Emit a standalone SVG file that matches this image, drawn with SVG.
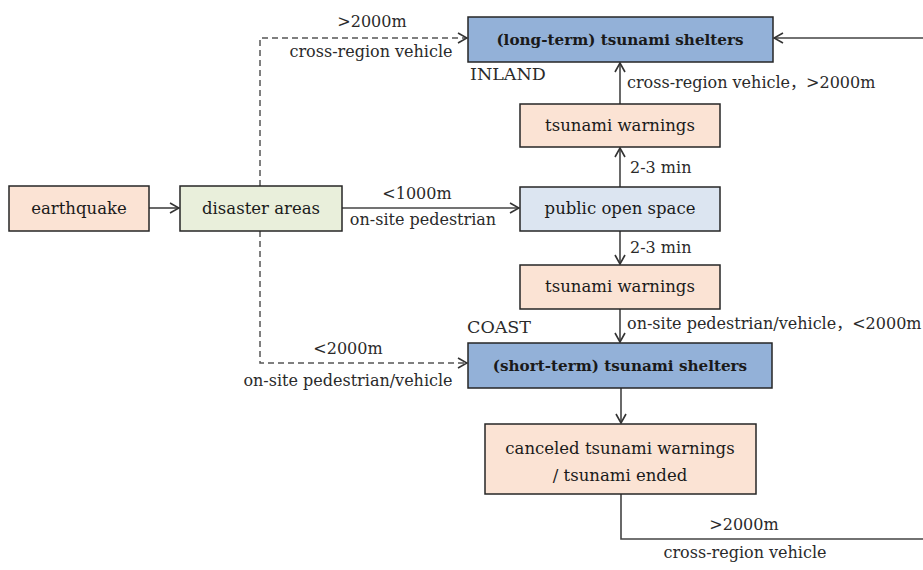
<svg xmlns="http://www.w3.org/2000/svg" width="923" height="570" viewBox="0 0 923 570">
<defs>
<style>
.box{stroke:#262626;stroke-width:1.5}
.peach{fill:#fbe3d4}
.green{fill:#e9efdb}
.lblue{fill:#dce5f1}
.blue{fill:#93b1d8}
.nt{font-family:"DejaVu Serif","Liberation Serif",serif;font-size:16.5px;fill:#1a1a1a;text-anchor:middle}
.bt{font-family:"DejaVu Serif","Liberation Serif",serif;font-size:15.2px;font-weight:bold;fill:#1a1a1a;text-anchor:middle}
.lt{font-family:"DejaVu Serif","Noto Sans CJK SC",serif;font-size:16px;fill:#2a2a2a}
.cap{font-family:"DejaVu Serif","Liberation Serif",serif;font-size:17.5px;fill:#2a2a2a}
.ln{fill:none;stroke:#444;stroke-width:1.6}
.dash{fill:none;stroke:#555;stroke-width:1.5;stroke-dasharray:6,4}
</style>
<marker id="ah" viewBox="0 0 12 12" refX="11" refY="6" markerWidth="12" markerHeight="12" markerUnits="userSpaceOnUse" orient="auto">
<polyline points="2,1 11,6 2,11" fill="none" stroke="#333" stroke-width="1.6"/>
</marker>
</defs>
<rect width="923" height="570" fill="#ffffff"/>
<g id="connectors">
<line class="ln" x1="149" y1="208" x2="179" y2="208" marker-end="url(#ah)"/>
<line class="ln" x1="342" y1="208" x2="519" y2="208" marker-end="url(#ah)"/>
<polyline class="dash" points="260,186 260,38 467,38" marker-end="url(#ah)"/>
<polyline class="dash" points="260,231 260,363 467,363" marker-end="url(#ah)"/>
<line class="ln" x1="620" y1="104" x2="620" y2="63" marker-end="url(#ah)"/>
<line class="ln" x1="620" y1="187" x2="620" y2="148" marker-end="url(#ah)"/>
<line class="ln" x1="620" y1="231" x2="620" y2="264" marker-end="url(#ah)"/>
<line class="ln" x1="620" y1="309" x2="620" y2="342" marker-end="url(#ah)"/>
<line class="ln" x1="621" y1="388" x2="621" y2="423" marker-end="url(#ah)"/>
<polyline class="ln" points="621,494 621,539 926,539 926,38 774,38" marker-end="url(#ah)"/>
<text class="lt" x="372" y="27" text-anchor="middle">&gt;2000m</text>
<text class="lt" x="371" y="57" text-anchor="middle">cross-region vehicle</text>
<text class="lt" x="417" y="199" text-anchor="middle">&lt;1000m</text>
<text class="lt" x="423" y="225" text-anchor="middle">on-site pedestrian</text>
<text class="lt" x="348" y="354" text-anchor="middle">&lt;2000m</text>
<text class="lt" x="348" y="386" text-anchor="middle">on-site pedestrian/vehicle</text>
<text class="lt" x="627" y="88">cross-region vehicle，&gt;2000m</text>
<text class="lt" x="630" y="173">2-3 min</text>
<text class="lt" x="630" y="253">2-3 min</text>
<text class="lt" x="627" y="329">on-site pedestrian/vehicle，&lt;2000m</text>
<text class="lt" x="744" y="530" text-anchor="middle">&gt;2000m</text>
<text class="lt" x="745" y="558" text-anchor="middle">cross-region vehicle</text>
<text class="cap" x="470" y="80">INLAND</text>
<text class="cap" x="467" y="333">COAST</text>
</g>
<g id="earthquake">
<rect class="box peach" x="9" y="186" width="140" height="45"/>
<text class="nt" x="79" y="214">earthquake</text>
</g>
<g id="disaster-areas">
<rect class="box green" x="180" y="186" width="162" height="45"/>
<text class="nt" x="261" y="214">disaster areas</text>
</g>
<g id="public-open-space">
<rect class="box lblue" x="520" y="187" width="200" height="44"/>
<text class="nt" x="620" y="214">public open space</text>
</g>
<g id="tsunami-warnings-1">
<rect class="box peach" x="520" y="104" width="200" height="43"/>
<text class="nt" x="620" y="131">tsunami warnings</text>
</g>
<g id="tsunami-warnings-2">
<rect class="box peach" x="520" y="265" width="200" height="44"/>
<text class="nt" x="620" y="292">tsunami warnings</text>
</g>
<g id="long-term-shelters">
<rect class="box blue" x="468" y="17" width="305" height="45"/>
<text class="bt" x="620" y="45">(long-term) tsunami shelters</text>
</g>
<g id="short-term-shelters">
<rect class="box blue" x="468" y="343" width="304" height="45"/>
<text class="bt" x="620" y="371">(short-term) tsunami shelters</text>
</g>
<g id="canceled-warnings">
<rect class="box peach" x="485" y="424" width="271" height="70"/>
<text class="nt" x="620" y="454">canceled tsunami warnings</text>
<text class="nt" x="620" y="481">/ tsunami ended</text>
</g>
</svg>
